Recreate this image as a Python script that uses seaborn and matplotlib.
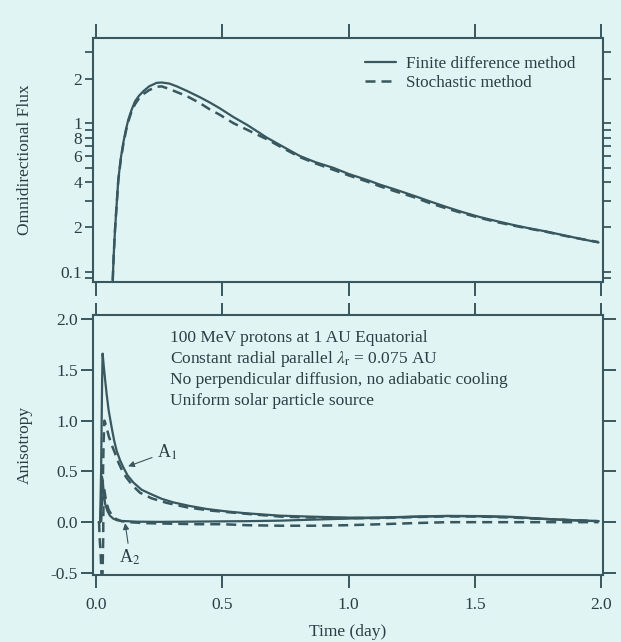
import numpy as np
import pandas as pd
import seaborn as sns
import matplotlib.pyplot as plt
from matplotlib.ticker import FixedLocator, FixedFormatter, NullLocator

# --- data ---
t_flux = [0.066, 0.070, 0.075, 0.082, 0.088, 0.098, 0.108, 0.118, 0.128, 0.140,
          0.154, 0.170, 0.187, 0.21, 0.24, 0.26, 0.29, 0.32, 0.36, 0.41,
          0.45, 0.49, 0.544, 0.60, 0.676, 0.75, 0.808, 0.87, 0.94, 1.0,
          1.072, 1.125, 1.19, 1.257, 1.32, 1.389, 1.45, 1.52, 1.59, 1.653,
          1.72, 1.785, 1.85, 1.92, 1.99]
flux_fd = [0.087, 0.13, 0.19, 0.29, 0.415, 0.58, 0.74, 0.90, 1.06, 1.22,
           1.40, 1.53, 1.64, 1.77, 1.87, 1.88, 1.85, 1.77, 1.65, 1.50,
           1.38, 1.26, 1.10, 0.97, 0.80, 0.68, 0.60, 0.545, 0.50, 0.455,
           0.415, 0.385, 0.355, 0.325, 0.298, 0.272, 0.252, 0.233, 0.218, 0.206,
           0.195, 0.186, 0.176, 0.166, 0.157]
flux_sm = [0.087, 0.13, 0.19, 0.29, 0.41, 0.57, 0.72, 0.88, 1.03, 1.19,
           1.34, 1.47, 1.57, 1.67, 1.76, 1.77, 1.70, 1.62, 1.52, 1.37,
           1.24, 1.14, 1.00, 0.90, 0.78, 0.665, 0.59, 0.535, 0.485, 0.445,
           0.405, 0.375, 0.345, 0.318, 0.29, 0.266, 0.248, 0.23, 0.215, 0.204,
           0.194, 0.185, 0.175, 0.166, 0.158]

t_a1_fd = [0.012, 0.016, 0.020, 0.024, 0.026, 0.030, 0.036, 0.042, 0.050, 0.062,
           0.072, 0.082, 0.095, 0.108, 0.125, 0.148, 0.18, 0.214, 0.26, 0.306,
           0.37, 0.438, 0.52, 0.597, 0.729, 0.86, 0.993, 1.125, 1.26, 1.39,
           1.52, 1.65, 1.785, 1.9, 1.99]
a1_fd = [0.0, 0.0, 0.5, 1.4, 1.66, 1.55, 1.40, 1.26, 1.10, 0.93,
         0.80, 0.70, 0.61, 0.54, 0.46, 0.39, 0.32, 0.28, 0.23, 0.195,
         0.16, 0.13, 0.105, 0.087, 0.064, 0.054, 0.045, 0.045, 0.055, 0.062,
         0.06, 0.052, 0.032, 0.018, 0.01]

t_a1_sm = [0.020, 0.026, 0.030, 0.033, 0.040, 0.050, 0.062, 0.075, 0.090, 0.105,
           0.12, 0.145, 0.174, 0.22, 0.28, 0.36, 0.45, 0.53, 0.63, 0.73,
           0.86, 0.993, 1.125, 1.26, 1.39, 1.52, 1.65, 1.785, 1.9, 1.99]
a1_sm = [0.0, 0.3, 0.8, 1.0, 0.95, 0.85, 0.76, 0.68, 0.58, 0.50,
         0.44, 0.36, 0.29, 0.235, 0.19, 0.146, 0.115, 0.097, 0.075, 0.055,
         0.045, 0.04, 0.04, 0.05, 0.057, 0.055, 0.045, 0.03, 0.018, 0.01]

t_a2_fd = [0.010, 0.016, 0.020, 0.023, 0.026, 0.030, 0.036, 0.045, 0.055, 0.068,
           0.082, 0.10, 0.12, 0.16, 0.25, 0.35, 0.5, 0.6, 0.73, 0.86,
           0.993, 1.1, 1.26, 1.39, 1.52, 1.65, 1.785, 1.9, 1.99]
a2_fd = [0.0, 0.0, 0.15, 0.45, 0.42, 0.30, 0.18, 0.11, 0.064, 0.035,
         0.02, 0.012, 0.01, 0.005, 0.003, 0.005, 0.008, 0.01, 0.015, 0.025,
         0.035, 0.042, 0.053, 0.06, 0.058, 0.05, 0.03, 0.017, 0.01]

t_a2_sm = [0.012, 0.014, 0.018, 0.022, 0.025, 0.028, 0.030, 0.034, 0.040, 0.05,
           0.065, 0.08, 0.1, 0.13, 0.2, 0.3, 0.4, 0.5, 0.6, 0.73,
           0.86, 0.993, 1.13, 1.25, 1.39, 1.52, 1.65, 1.785, 1.9, 1.99]
a2_sm = [0.0, -0.15, -0.3, -0.55, -0.6, -0.2, 0.35, 0.30, 0.2, 0.12,
         0.06, 0.03, 0.01, 0.0, -0.01, -0.015, -0.02, -0.02, -0.03, -0.035,
         -0.035, -0.03, -0.02, -0.01, 0.0, 0.0, 0.0, 0.0, 0.0, 0.0]

flux_ticks = [0.09, 0.1, 0.2, 0.3, 0.4, 0.5, 0.6, 0.7, 0.8, 0.9, 1, 2, 3]
flux_labels = ['', '0.1', '2', '', '4', '', '6', '', '8', '', '1', '2', '']
time_ticks = [0.0, 0.5, 1.0, 1.5, 2.0]
aniso_ticks = [-0.5, 0.0, 0.5, 1.0, 1.5, 2.0]

series_names = ['Finite difference method', 'Stochastic method']
info_lines = ['100 MeV protons at 1 AU Equatorial',
              r'Constant radial parallel $\lambda_{\rm r}$ = 0.075 AU',
              'No perpendicular diffusion, no adiabatic cooling',
              'Uniform solar particle source']

BG = '#e0f4f4'
LC = '#38575e'
TC = '#2a3f45'
DASH = (0, (4, 2.4))

sns.set_style('ticks', {'axes.facecolor': BG, 'figure.facecolor': BG,
                        'axes.edgecolor': LC, 'xtick.color': LC, 'ytick.color': LC,
                        'text.color': TC, 'axes.labelcolor': TC})
plt.rcParams['font.family'] = ['Liberation Serif', 'DejaVu Serif']
plt.rcParams['mathtext.fontset'] = 'stix'
plt.rcParams['axes.linewidth'] = 1.5

fig = plt.figure(figsize=(6.21, 6.42), dpi=100, facecolor=BG)
ax1 = fig.add_axes([0.1498, 0.5607, 0.8213, 0.3801])
ax2 = fig.add_axes([0.1498, 0.1044, 0.8213, 0.4049])

# top panel: omnidirectional flux
sns.lineplot(x=t_flux, y=flux_fd, ax=ax1, color=LC, lw=1.6, estimator=None,
             sort=False, label=series_names[0])
sns.lineplot(x=t_flux, y=flux_sm, ax=ax1, color=LC, lw=1.8, linestyle=DASH,
             estimator=None, sort=False, label=series_names[1])
ax1.set_yscale('log')
ax1.set_xlim(-0.012, 2.008)
ax1.set_ylim(0.085, 3.75)
ax1.yaxis.set_major_locator(FixedLocator(flux_ticks))
ax1.yaxis.set_major_formatter(FixedFormatter(flux_labels))
ax1.yaxis.set_minor_locator(NullLocator())
ax1.set_xticks(time_ticks)
ax1.tick_params(axis='x', direction='out', length=10, width=1.4, top=True,
                bottom=True, labelbottom=False)
ax1.tick_params(axis='y', which='both', direction='out', length=6, width=1.3,
                left=True, right=True, labelsize=12.5, labelcolor=TC, pad=2)
ax1.set_ylabel('Omnidirectional Flux', fontsize=12.5)
ax1.yaxis.set_label_coords(-0.118, 0.5)
ax1.set_xlabel('')
ax1.legend(loc='upper right', bbox_to_anchor=(0.962, 0.96), frameon=False,
           fontsize=12.3, handlelength=1.85, handletextpad=0.55, labelspacing=0.15,
           borderpad=0, labelcolor=TC)

# bottom panel: anisotropy
sns.lineplot(x=t_a1_fd, y=a1_fd, ax=ax2, color=LC, lw=1.6, estimator=None, sort=False)
sns.lineplot(x=t_a1_sm, y=a1_sm, ax=ax2, color=LC, lw=1.8, linestyle=DASH,
             estimator=None, sort=False)
sns.lineplot(x=t_a2_fd, y=a2_fd, ax=ax2, color=LC, lw=1.6, estimator=None, sort=False)
sns.lineplot(x=t_a2_sm, y=a2_sm, ax=ax2, color=LC, lw=1.8, linestyle=DASH,
             estimator=None, sort=False)
ax2.set_xlim(-0.012, 2.008)
ax2.set_ylim(-0.52, 2.04)
ax2.set_xticks(time_ticks)
ax2.set_xticklabels([f'{v:.1f}' for v in time_ticks])
ax2.set_yticks(aniso_ticks)
ax2.set_yticklabels([f'{v:.1f}' for v in aniso_ticks])
ax2.tick_params(axis='x', direction='out', length=9, width=1.4, top=True,
                bottom=True, labelsize=12.5, labelcolor=TC, pad=7)
ax2.tick_params(axis='y', direction='out', length=9, width=1.4, left=True,
                right=True, labelsize=12.5, labelcolor=TC, pad=2)
ax2.set_ylabel('Anisotropy', fontsize=12.5)
ax2.yaxis.set_label_coords(-0.118, 0.5)
ax2.set_xlabel('Time (day)', fontsize=12.5, labelpad=8)

for i, line in enumerate(info_lines):
    ax2.text(0.151, 0.9115 - i * 0.0802, line, transform=ax2.transAxes,
             fontsize=12.5, va='center', ha='left', color=TC)

arrow = dict(arrowstyle='-|>', color=LC, lw=0.8, mutation_scale=9,
             shrinkA=1, shrinkB=0)
ax2.annotate('A$_1$', xy=(0.127, 0.55), xytext=(0.24, 0.69), fontsize=13,
             va='center', ha='left', color=TC, arrowprops=arrow)
ax2.annotate('A$_2$', xy=(0.115, -0.01), xytext=(0.135, -0.35), fontsize=13,
             va='center', ha='center', color=TC, arrowprops=arrow)

fig.savefig('out.png', dpi=100, facecolor=BG)
